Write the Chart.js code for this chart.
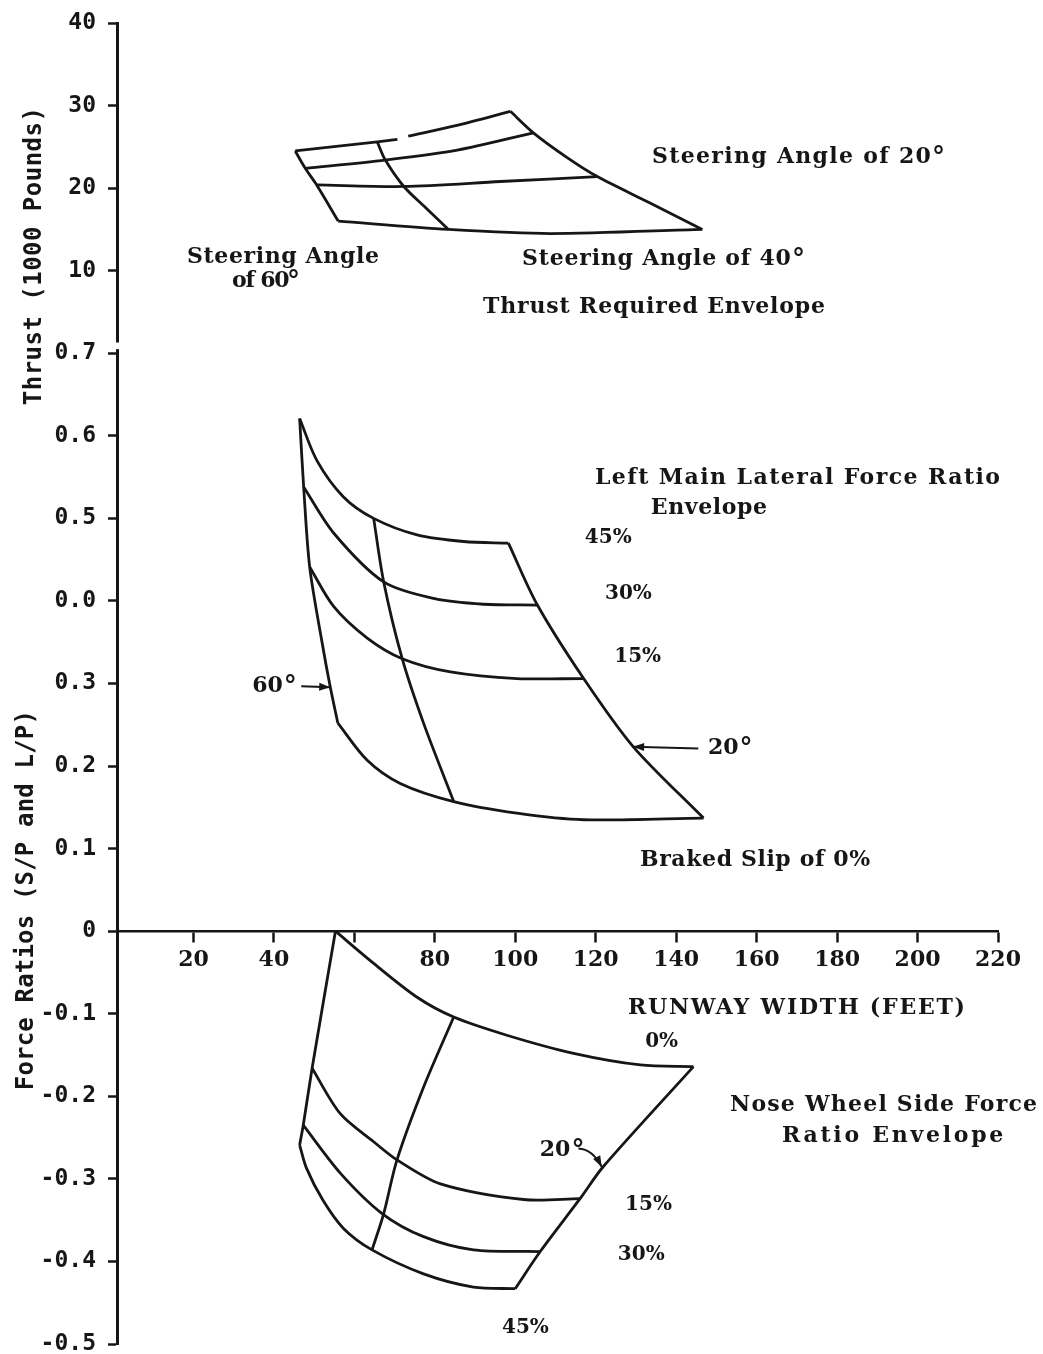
<!DOCTYPE html>
<html>
<head>
<meta charset="utf-8">
<script src="https://cdn.jsdelivr.net/npm/chart.js@4.4.1/dist/chart.umd.min.js"></script>
<style>
  body { margin: 0; background: #fff; }
  canvas { display: block; }
</style>
</head>
<body>
<canvas id="envelopes" width="1043" height="1354"></canvas>
<script>
// one shared vertical axis: force ratios below 0.7, thrust (1000 lb) stacked on top of it
var yTickLabels = ['-0.5', '-0.4', '-0.3', '-0.2', '-0.1', '0', '0.1', '0.2', '0.3', '0.0', '0.5', '0.6', '0.7', '10', '20', '30', '40']
var xTickValues = [20, 40, 60, 80, 100, 120, 140, 160, 180, 200, 220]
var xTickLabels = ['20', '40', '', '80', '100', '120', '140', '160', '180', '200', '220']

// Thrust required envelope  [runway width ft, thrust 1000 lb]
var thrustTop = [[45.3, 24.5], [65.7, 25.6], [70.7, 25.9], null, [73.4, 26.3], [85.5, 27.6], [98.8, 29.3]]
var thrustSecond = [[47.8, 22.4], [67.7, 23.4], [85.6, 24.6], [104.5, 26.7]]
var thrustThird = [[50.6, 20.4], [72.3, 20.2], [96.3, 20.8], [120.4, 21.4]]
var thrustBottom = [[56.0, 16.0], [83.4, 15.0], [108.7, 14.5], [146.5, 15.0]]
var thrustAngle60 = [[45.3, 24.5], [47.8, 22.4], [50.6, 20.4], [56.0, 16.0]]
var thrustAngle40 = [[65.7, 25.6], [67.7, 23.4], [72.3, 20.2], [77.8, 17.6], [83.4, 15.0]]
var thrustAngle20 = [[98.8, 29.3], [104.5, 26.7], [112.9, 23.7], [120.4, 21.4], [133.5, 18.2], [146.5, 15.0]]

// Left main lateral force ratio envelope  [runway width ft, L/P]
var lateralSlip45 = [[46.4, 0.621], [50.7, 0.570], [57.3, 0.526], [64.8, 0.500], [75.6, 0.480], [87.2, 0.472], [98.3, 0.470]]
var lateralSlip30 = [[47.4, 0.538], [54.9, 0.482], [67.3, 0.423], [79.7, 0.403], [92.1, 0.396], [105.4, 0.395]]
var lateralSlip15 = [[48.9, 0.441], [54.9, 0.393], [63.2, 0.355], [71.9, 0.330], [83.9, 0.314], [100.4, 0.306], [117.0, 0.306]]
var lateralSlip0 = [[55.9, 0.252], [63.2, 0.207], [71.4, 0.179], [84.7, 0.157], [100.4, 0.143], [117.0, 0.135], [146.8, 0.137]]
var lateralAngle60 = [[46.4, 0.621], [47.4, 0.538], [48.9, 0.441], [52.0, 0.349], [54.0, 0.296], [55.9, 0.252]]
var lateralAngle40 = [[64.8, 0.500], [67.3, 0.423], [71.9, 0.330], [77.2, 0.252], [84.7, 0.157]]
var lateralAngle20 = [[98.3, 0.470], [105.4, 0.396], [117.0, 0.306], [129.4, 0.223], [146.8, 0.137]]

// Nose wheel side force ratio envelope  [runway width ft, S/P]
var noseSlip0 = [[55.3, 0], [64.8, -0.039], [75.6, -0.080], [84.7, -0.104], [97.9, -0.126], [114.5, -0.148], [131.1, -0.162], [144.3, -0.164]]
var noseSlip15 = [[49.5, -0.166], [56.5, -0.221], [64.8, -0.255], [70.6, -0.277], [81.4, -0.306], [102.1, -0.325], [116.1, -0.324]]
var noseSlip30 = [[47.3, -0.235], [56.5, -0.293], [66.9, -0.342], [77.2, -0.370], [89.6, -0.386], [106.2, -0.388]]
var noseSlip45 = [[46.4, -0.259], [48.1, -0.287], [52.2, -0.326], [57.3, -0.360], [64.4, -0.386], [77.2, -0.415], [89.6, -0.431], [100.0, -0.433]]
var noseAngle60 = [[55.3, 0], [49.5, -0.166], [47.3, -0.235], [46.4, -0.259]]
var noseAngle40 = [[84.7, -0.104], [77.2, -0.189], [70.6, -0.277], [67.3, -0.342], [64.4, -0.386]]
var noseAngle20 = [[144.3, -0.164], [121.9, -0.285], [116.1, -0.324], [106.2, -0.388], [100.0, -0.433]]

var ink = '#161616'

// thrust sits above the ratio part: 10 -> 8, 20 -> 9 ...; ratios are scaled x10
function thrustPts(arr) {
    return arr.map(function (p) { return p ? { x: p[0], y: 7 + p[1] / 10 } : { x: null, y: null } })
}
function ratioPts(arr) {
    return arr.map(function (p) { return { x: p[0], y: p[1] * 10 } })
}
function curve(points) {
    return {
        data: points,
        showLine: true,
        borderColor: ink,
        borderWidth: 2.8,
        pointRadius: 0,
        tension: 0.3,
        fill: false
    }
}

var datasets = []
var thrustCurves = [thrustTop, thrustSecond, thrustThird, thrustBottom, thrustAngle60, thrustAngle40, thrustAngle20]
var ratioCurves = [lateralSlip45, lateralSlip30, lateralSlip15, lateralSlip0, lateralAngle60, lateralAngle40, lateralAngle20,
    noseSlip0, noseSlip15, noseSlip30, noseSlip45, noseAngle60, noseAngle40, noseAngle20]
for (i = 0; i < thrustCurves.length; i++) {
    datasets.push(curve(thrustPts(thrustCurves[i])))
}
for (i = 0; i < ratioCurves.length; i++) {
    datasets.push(curve(ratioPts(ratioCurves[i])))
}

// text notes: [text, left ft, right ft, axis units]; short ones keep their own width
var notes = [
    ['Steering Angle of 20°', 134.0, 206.8, 9.375],
    ['Steering Angle', 18.4, 66.1, 8.164],
    ['of 60°', 29.6, 46.5, 7.873],
    ['Steering Angle of 40°', 101.7, 172.0, 8.140],
    ['Thrust Required Envelope', 92.0, 177.0, 7.558],
    ['Left Main Lateral Force Ratio', 119.8, 220.5, 5.487],
    ['Envelope', 133.7, 162.6, 5.124],
    ['45%', 117.3, 129.3, 4.760],
    ['30%', 122.3, 134.2, 4.082],
    ['15%', 124.6, 136.7, 3.319],
    ['60°', 34.6, 47.0, 2.967],
    ['20°', 147.9, 159.6, 2.217],
    ['Braked Slip of 0%', 131.0, 188.2, 0.860],
    ['RUNWAY WIDTH (FEET)', 128.0, 211.8, -0.933],
    ['0%', 132.3, 142.2, -1.344],
    ['Nose Wheel Side Force', 153.4, 229.7, -2.108],
    ['Ratio Envelope', 166.3, 221.3, -2.483],
    ['20°', 106.1, 116.0, -2.653],
    ['15%', 127.3, 138.0, -3.319],
    ['30%', 125.5, 137.0, -3.924],
    ['45%', 96.7, 109.4, -4.809]
]
// rotated axis titles: [text, bottom, top in axis units, px left of the axis]
var axisTitles = [
    ['Thrust (1000 Pounds)', 6.371, 9.981, 82],
    ['Force Ratios (S/P and L/P)', -1.926, 2.677, 90]
]
var arrows = [
    [[46.8, 2.967], [50.5, 2.962], [54.0, 2.955]],
    [[145.5, 2.213], [137.4, 2.223], [129.3, 2.233]],
    [[115.7, -2.632], [119.2, -2.640], [121.5, -2.855]]
]

function fitText(ctx, text, left, right, y) {
    var target = right - left
    ctx.letterSpacing = '0px'
    var w = ctx.measureText(text).width
    var gap = (target - w) / Math.max(text.length - 1, 1)
    gap = Math.max(-1.2, Math.min(3.5, gap))
    if ('letterSpacing' in ctx) {
        ctx.letterSpacing = gap + 'px'
        ctx.fillText(text, left, y)
        ctx.letterSpacing = '0px'
    } else {
        ctx.fillText(text, left, y)
    }
}

var annotate = {
    id: 'annotate',
    afterDatasetsDraw: function (chart) {
        var ctx = chart.ctx
        var xs = chart.scales.x
        var ys = chart.scales.y
        ctx.save()
        ctx.fillStyle = ink
        ctx.strokeStyle = ink
        ctx.textAlign = 'left'
        ctx.textBaseline = 'middle'

        for (i = 0; i < notes.length; i++) {
            var n = notes[i]
            var left = xs.getPixelForValue(n[1])
            var right = xs.getPixelForValue(n[2])
            var y = ys.getPixelForValue(n[3])
            var text = n[0]
            var deg = text.slice(-1) == '°'
            if (deg) text = text.slice(0, -1)
            var bodyRight = deg ? right - 14 : right
            if (text.length <= 3) {
                ctx.font = text.indexOf('%') >= 0 ? 'bold 20px "DejaVu Serif"' : 'bold 22px "DejaVu Serif"'
                ctx.letterSpacing = '0px'
                ctx.fillText(text, left, y)
                bodyRight = left + ctx.measureText(text).width
            } else {
                ctx.font = 'bold 22px "DejaVu Serif"'
                fitText(ctx, text, left, bodyRight, y)
            }
            if (deg) {
                ctx.font = 'bold 26px "DejaVu Serif"'
                ctx.textBaseline = 'alphabetic'
                ctx.fillText('°', bodyRight + 1, y + 8)
                ctx.textBaseline = 'middle'
            }
        }

        ctx.font = 'bold 24px "DejaVu Sans Mono"'
        for (i = 0; i < axisTitles.length; i++) {
            var t = axisTitles[i]
            var yb = ys.getPixelForValue(t[1])
            var yt = ys.getPixelForValue(t[2])
            ctx.save()
            ctx.translate(chart.chartArea.left - t[3], yb)
            ctx.rotate(-Math.PI / 2)
            fitText(ctx, t[0], 0, yb - yt, 0)
            ctx.restore()
        }

        ctx.lineWidth = 2
        for (i = 0; i < arrows.length; i++) {
            var a = arrows[i]
            var p0 = [xs.getPixelForValue(a[0][0]), ys.getPixelForValue(a[0][1])]
            var p1 = [xs.getPixelForValue(a[1][0]), ys.getPixelForValue(a[1][1])]
            var p2 = [xs.getPixelForValue(a[2][0]), ys.getPixelForValue(a[2][1])]
            ctx.beginPath()
            ctx.moveTo(p0[0], p0[1])
            ctx.quadraticCurveTo(p1[0], p1[1], p2[0], p2[1])
            ctx.stroke()
            var ang = Math.atan2(p2[1] - p1[1], p2[0] - p1[0])
            ctx.beginPath()
            ctx.moveTo(p2[0], p2[1])
            ctx.lineTo(p2[0] - 11 * Math.cos(ang) + 4 * Math.sin(ang), p2[1] - 11 * Math.sin(ang) - 4 * Math.cos(ang))
            ctx.lineTo(p2[0] - 11 * Math.cos(ang) - 4 * Math.sin(ang), p2[1] - 11 * Math.sin(ang) + 4 * Math.cos(ang))
            ctx.closePath()
            ctx.fill()
        }
        ctx.restore()
    },
    afterDraw: function (chart) {
        // small break in the axis line between the ratio and thrust scales
        var ctx = chart.ctx
        var ys = chart.scales.y
        var left = chart.chartArea.left
        ctx.save()
        ctx.fillStyle = '#fff'
        ctx.fillRect(left - 3, ys.getPixelForValue(7.13), 6, ys.getPixelForValue(7.05) - ys.getPixelForValue(7.13))
        ctx.restore()
    }
}

var canvas = document.querySelector('#envelopes')
var chart = new Chart(canvas, {
    type: 'scatter',
    data: { datasets: datasets },
    plugins: [annotate],
    options: {
        responsive: false,
        animation: false,
        layout: { padding: { left: 0, top: 23, right: 45, bottom: 10 } },
        plugins: {
            legend: { display: false },
            tooltip: { enabled: false }
        },
        scales: {
            x: {
                type: 'linear',
                position: { y: 0 },
                min: 1,
                max: 220,
                afterBuildTicks: function (axis) {
                    axis.ticks = xTickValues.map(function (v) { return { value: v } })
                },
                afterFit: function (axis) {
                    axis.height = 0
                    axis.paddingLeft = 0
                    axis.paddingRight = 0
                },
                grid: { drawOnChartArea: false, tickLength: 10, tickWidth: 2.5, tickColor: ink },
                border: { display: true, color: ink, width: 2.5 },
                ticks: {
                    autoSkip: false,
                    maxRotation: 0,
                    padding: 6,
                    color: ink,
                    font: { family: 'DejaVu Serif', weight: 'bold', size: 22 },
                    callback: function (value, index) { return xTickLabels[index] }
                }
            },
            y: {
                type: 'linear',
                position: 'left',
                min: -5,
                max: 11,
                afterFit: function (axis) {
                    axis.width = 117
                    axis.paddingTop = 0
                    axis.paddingBottom = 0
                },
                grid: { drawOnChartArea: false, tickLength: 9, tickWidth: 2.5, tickColor: ink },
                border: { display: true, color: ink, width: 3 },
                ticks: {
                    stepSize: 1,
                    autoSkip: false,
                    padding: 12,
                    color: ink,
                    font: { family: 'DejaVu Sans Mono', weight: 'bold', size: 23 },
                    callback: function (value) { return yTickLabels[Math.round(value) + 5] }
                }
            }
        }
    }
})
</script>
</body>
</html>
